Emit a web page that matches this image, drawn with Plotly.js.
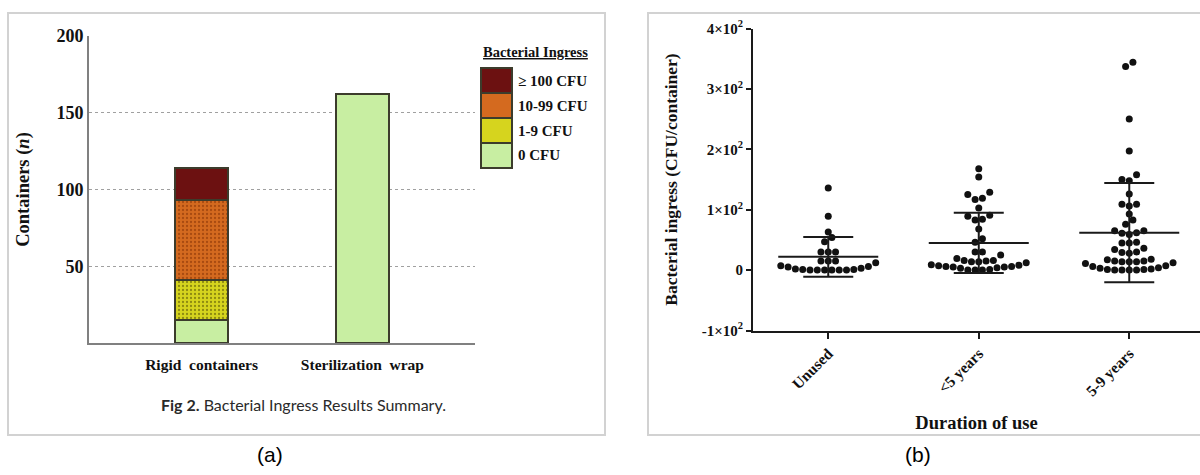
<!DOCTYPE html>
<html>
<head>
<meta charset="utf-8">
<script src="https://cdn.plot.ly/plotly-3.0.1.min.js"></script>
<style>
  html, body { margin: 0; padding: 0; background: #fff; overflow: hidden; }
  #chart { width: 1200px; height: 475px; }
</style>
</head>
<body>
<div id="chart"></div>
<script>
// ---------------- Data: panel (a) ----------------
const containerTypes = ['Rigid\u00a0 containers', 'Sterilization\u00a0 wrap'];
const ingressLevels = ['0 CFU', '1-9 CFU', '10-99 CFU', '\u2265 100 CFU'];
const count0CFU = [15, 162];
const count1to9CFU = [26, null];
const count10to99CFU = [52, null];
const count100plusCFU = [21, null];
const yTicksA = [50, 100, 150, 200];

// ---------------- Data: panel (b) ----------------
const durationGroups = ['Unused', '<5 years', '5-9 years'];
const unusedCFU = [0, 0, 0, 0, 0, 0, 1, 1, 2, 3, 5, 6, 7, 12, 15, 15, 15, 30, 30, 30, 47, 54, 63, 89, 136];
const under5yCFU = [0, 0, 0, 1, 3, 4, 5, 5, 6, 6, 7, 8, 9, 12, 14, 14, 15, 16, 16, 19, 25, 30, 30, 46, 52, 68,
  83, 84, 89, 91, 103, 117, 119, 125, 129, 154, 168];
const years5to9CFU = [0, 0, 0, 0, 1, 1, 2, 3, 4, 6, 7, 11, 12, 14, 14, 14, 15, 15, 17, 18, 28, 29, 30, 34, 36,
  45, 45, 46, 59, 61, 62, 65, 65, 76, 83, 93, 106, 109, 109, 126, 148, 150, 158, 197, 250, 337, 344];
const groupMeans = [22, 45, 62];
const groupSDs = [33, 50, 82];
const yTickValsB = [-100, 0, 100, 200, 300, 400];
const yTickTextB = ['-1\u00d710<sup>2</sup>', '0', '1\u00d710<sup>2</sup>', '2\u00d710<sup>2</sup>', '3\u00d710<sup>2</sup>', '4\u00d710<sup>2</sup>'];

// ---------------- Layout constants ----------------
const W = 1200, H = 475;
const X = p => p / W;
const Y = p => 1 - p / H;
const serif = 'Liberation Serif, Times New Roman, serif';

const colors = {
  '0 CFU': '#c8eea2',
  '1-9 CFU': '#d6d41e',
  '10-99 CFU': '#d46a1f',
  '\u2265 100 CFU': '#6c1111'
};
const patternFg = {
  '1-9 CFU': '#8d8a10',
  '10-99 CFU': '#a84a10'
};
const seriesA = [count0CFU, count1to9CFU, count10to99CFU, count100plusCFU];

const traces = [];
ingressLevels.forEach((lvl, i) => {
  const t = {
    type: 'bar', x: containerTypes, y: seriesA[i], name: lvl,
    xaxis: 'x', yaxis: 'y', width: 0.33,
    marker: { color: colors[lvl], line: { color: '#3c3c2c', width: 2 } },
    hoverinfo: 'x+y+name'
  };
  if (patternFg[lvl]) {
    t.marker.pattern = { shape: '.', fgcolor: patternFg[lvl], bgcolor: colors[lvl], size: 4, solidity: 0.25 };
  }
  traces.push(t);
});

// ---------------- Panel (b) geometry ----------------
const xRangeB = [-0.5, 2.47];
const plotB = { left: 753, right: 1200, top: 28.5, bottom: 330.5 };
const pxPerX = (plotB.right - plotB.left) / (xRangeB[1] - xRangeB[0]);
const pxPerY = (plotB.bottom - plotB.top) / (yTickValsB[yTickValsB.length - 1] - yTickValsB[0]);
const dotGapPx = 7.3;
const binPx = 7.5;

function swarm(values, center) {
  const sorted = values.slice().sort((a, b) => a - b);
  const xs = [], ys = [];
  let i = 0;
  while (i < sorted.length) {
    const start = sorted[i];
    const bin = [];
    while (i < sorted.length && (sorted[i] - start) * pxPerY < binPx) { bin.push(sorted[i]); i++; }
    const n = bin.length;
    const offs = [];
    if (n % 2 === 1) {
      offs.push(0);
      for (let k = 1; offs.length < n; k++) { offs.push(-k); if (offs.length < n) offs.push(k); }
    } else {
      for (let k = 0; offs.length < n; k++) { offs.push(-(k + 0.5)); offs.push(k + 0.5); }
    }
    bin.forEach((v, j) => { xs.push(center + offs[j] * dotGapPx / pxPerX); ys.push(v); });
  }
  return { xs, ys };
}

const groupsB = [unusedCFU, under5yCFU, years5to9CFU];
groupsB.forEach((vals, g) => {
  const s = swarm(vals, g);
  traces.push({
    type: 'scatter', mode: 'markers', x: s.xs, y: s.ys, xaxis: 'x2', yaxis: 'y2',
    marker: { color: '#111', size: 7 }, name: durationGroups[g], hoverinfo: 'y+name'
  });
});

// mean lines
const halfMean = 50 / pxPerX;
const mx = [], my = [];
groupMeans.forEach((m, g) => { mx.push(g - halfMean, g + halfMean, null); my.push(m, m, null); });
traces.push({
  type: 'scatter', mode: 'lines', x: mx, y: my, xaxis: 'x2', yaxis: 'y2',
  line: { color: '#1a1a1a', width: 2 }, hoverinfo: 'skip'
});
// SD error bars
traces.push({
  type: 'scatter', mode: 'markers', x: [0, 1, 2], y: groupMeans, xaxis: 'x2', yaxis: 'y2',
  marker: { size: 1, color: 'rgba(0,0,0,0)' },
  error_y: { type: 'data', array: groupSDs, visible: true, color: '#1a1a1a', thickness: 2, width: 25 },
  hoverinfo: 'skip'
});

// ---------------- Shapes & annotations ----------------
const shapes = [
  { type: 'rect', xref: 'paper', yref: 'paper', x0: X(8), x1: X(605), y0: Y(435), y1: Y(13),
    line: { color: '#d2d2d2', width: 2 }, fillcolor: 'rgba(0,0,0,0)', layer: 'below' },
  { type: 'rect', xref: 'paper', yref: 'paper', x0: X(648), x1: X(1203), y0: Y(435), y1: Y(13),
    line: { color: '#d2d2d2', width: 2 }, fillcolor: 'rgba(0,0,0,0)', layer: 'below' }
];
const annotations = [];

// custom legend for panel (a)
const legendOrder = ingressLevels.slice().reverse();
const swTop = 68, swH = 25, swL = 481, swR = 512;
legendOrder.forEach((lvl, k) => {
  shapes.push({
    type: 'rect', xref: 'paper', yref: 'paper',
    x0: X(swL), x1: X(swR), y0: Y(swTop + (k + 1) * swH), y1: Y(swTop + k * swH),
    fillcolor: colors[lvl], line: { color: '#3c3c2c', width: 2 }
  });
  annotations.push({
    xref: 'paper', yref: 'paper', x: X(516), y: Y(swTop + k * swH + swH / 2),
    xanchor: 'left', yanchor: 'middle', showarrow: false, text: '<b>' + lvl + '</b>',
    font: { family: serif, size: 15, color: '#111' }
  });
});
annotations.push({
  xref: 'paper', yref: 'paper', x: X(535), y: Y(52), xanchor: 'center', yanchor: 'middle',
  showarrow: false, text: '<b><u>Bacterial Ingress</u></b>',
  font: { family: serif, size: 14.5, color: '#111' }
});
annotations.push({
  xref: 'paper', yref: 'paper', x: X(303), y: Y(404), xanchor: 'center', yanchor: 'middle',
  showarrow: false, text: '<b>Fig 2.</b> Bacterial Ingress Results Summary.',
  font: { family: 'Lato, Open Sans, sans-serif', size: 16, color: '#2a2a2a' }
});
annotations.push({
  xref: 'paper', yref: 'paper', x: X(270), y: Y(454), xanchor: 'center', yanchor: 'middle',
  showarrow: false, text: '(a)', font: { family: 'Liberation Sans, Arial, sans-serif', size: 21, color: '#000' }
});
annotations.push({
  xref: 'paper', yref: 'paper', x: X(918), y: Y(454), xanchor: 'center', yanchor: 'middle',
  showarrow: false, text: '(b)', font: { family: 'Liberation Sans, Arial, sans-serif', size: 21, color: '#000' }
});

const boldFont = (size) => ({ family: serif, size: size, color: '#111', weight: 700 });

const layout = {
  width: W, height: H,
  margin: { l: 0, r: 0, t: 0, b: 0 },
  paper_bgcolor: '#ffffff', plot_bgcolor: 'rgba(0,0,0,0)',
  showlegend: false, barmode: 'stack',
  xaxis: {
    domain: [X(89), X(475)], anchor: 'y', type: 'category', range: [-0.7, 1.7],
    showline: true, linecolor: '#808080', linewidth: 2, ticks: '', showgrid: false, zeroline: false,
    ticklabelstandoff: 6,
    tickfont: boldFont(15.5)
  },
  yaxis: {
    domain: [Y(343), Y(36)], anchor: 'x', range: [0, 200],
    tickvals: yTicksA, showline: true, linecolor: '#808080', linewidth: 2, ticks: '',
    showgrid: true, gridcolor: '#a0a0a0', griddash: 'dot', gridwidth: 1, zeroline: false,
    tickfont: boldFont(18),
    title: { text: 'Containers (<i>n</i>)', standoff: 22, font: boldFont(18.5) }
  },
  xaxis2: {
    domain: [X(plotB.left), 1], anchor: 'y2', range: xRangeB,
    tickvals: [0, 1, 2], ticktext: durationGroups.map(s => '<b>' + s.replace('<', '&lt;') + '</b>'),
    tickangle: -45, ticks: 'outside', ticklen: 6, tickwidth: 2, tickcolor: '#1a1a1a',
    showline: true, linecolor: '#1a1a1a', linewidth: 2, showgrid: false, zeroline: false,
    tickfont: boldFont(15.5),
    title: { text: 'Duration of use', standoff: 18, font: boldFont(18.5) }
  },
  yaxis2: {
    domain: [Y(plotB.bottom), Y(plotB.top)], anchor: 'x2', range: [yTickValsB[0], yTickValsB[yTickValsB.length - 1]],
    tickvals: yTickValsB, ticktext: yTickTextB.map(s => '<b>' + s + '</b>'),
    ticks: 'outside', ticklen: 5, tickwidth: 2, tickcolor: '#1a1a1a',
    showline: true, linecolor: '#1a1a1a', linewidth: 2, showgrid: false, zeroline: false,
    tickfont: boldFont(15),
    title: { text: 'Bacterial ingress (CFU/container)', standoff: 20, font: boldFont(17.5) }
  },
  shapes: shapes,
  annotations: annotations
};

Plotly.newPlot('chart', traces, layout, { displayModeBar: false, staticPlot: true });
</script>
</body>
</html>
